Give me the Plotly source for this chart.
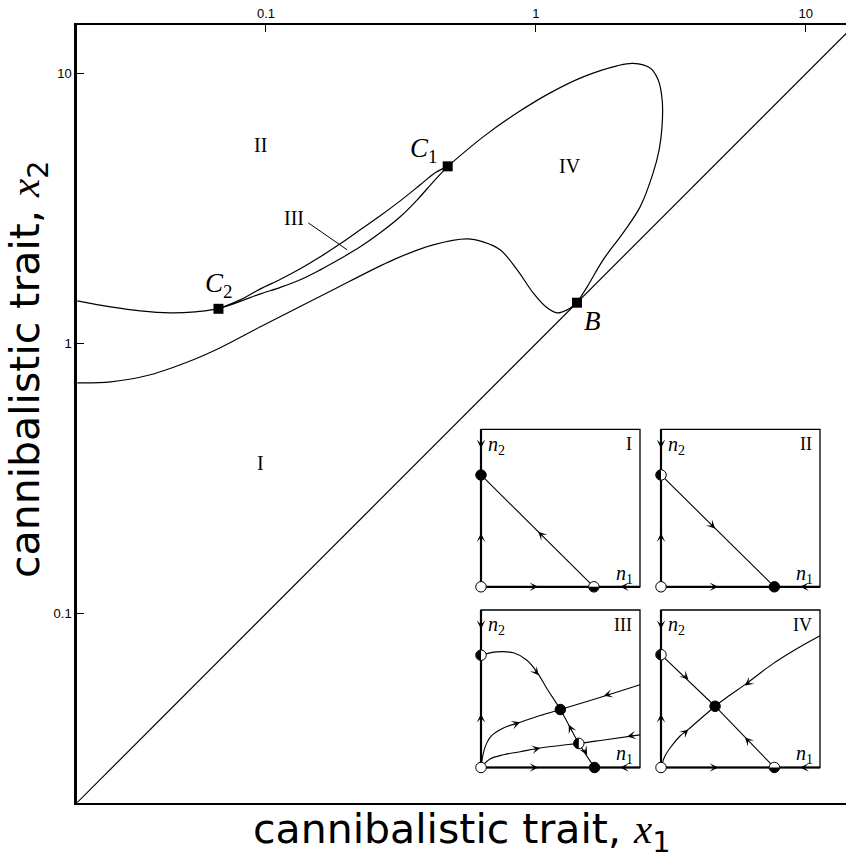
import numpy as np
import plotly.graph_objects as go

# ---------------- main diagram data (log-log) ----------------
left_x = [0.0200, 0.0266, 0.0342, 0.0443, 0.0547, 0.0667]
left_y = [1.443, 1.371, 1.325, 1.303, 1.314, 1.348]

hi_x = [0.0667, 0.0803, 0.0954, 0.1132, 0.1340, 0.1589, 0.1884, 0.2235, 0.2651, 0.3143, 0.3729, 0.4236, 0.4714]
hi_y = [1.348, 1.455, 1.598, 1.734, 1.896, 2.100, 2.346, 2.644, 2.980, 3.385, 3.881, 4.298, 4.544]

lo_x = [0.0667, 0.0803, 0.0954, 0.1132, 0.1340, 0.1589, 0.1884, 0.2235, 0.2651, 0.3143, 0.3635, 0.4165, 0.4714]
lo_y = [1.348, 1.437, 1.531, 1.619, 1.726, 1.879, 2.065, 2.287, 2.577, 2.954, 3.414, 3.981, 4.544]

loop_x = [0.4714, 0.6379, 0.8527, 1.130, 1.497, 2.000, 2.293, 2.651, 2.838, 2.937, 2.937, 2.862,
          2.719, 2.434, 2.105, 1.775, 1.549, 1.42]
loop_y = [4.544, 5.843, 7.172, 8.504, 9.747, 10.71, 10.94, 10.52, 9.502, 8.012, 6.473, 5.231,
          4.298, 3.216, 2.577, 2.047, 1.626, 1.42]

bot_x = [0.0200, 0.0266, 0.0373, 0.0538, 0.0677, 0.0954, 0.1687, 0.2961, 0.4165, 0.5566, 0.6379, 0.7377, 0.8527, 0.9772, 1.101, 1.199, 1.306, 1.42]
bot_y = [0.717, 0.723, 0.768, 0.873, 0.967, 1.156, 1.545, 2.047, 2.326, 2.448, 2.387, 2.229, 1.879, 1.545, 1.359, 1.302, 1.336, 1.42]

diag_x = [0.02, 16.0]
diag_y = [0.02, 16.0]

pts_name = ["C1", "C2", "B"]
pts_x = [0.4714, 0.0667, 1.42]
pts_y = [4.544, 1.348, 1.42]

lab_text = ["<i>C</i><sub>1</sub>", "<i>C</i><sub>2</sub>", "<i>B</i>", "I", "II", "III", "IV"]
lab_x = [0.3825, 0.0667, 1.616, 0.0953, 0.0953, 0.1265, 1.340]
lab_y = [5.23, 1.654, 1.217, 0.3624, 5.458, 2.922, 4.563]

ptr_x = [0.1435, 0.2000]
ptr_y = [2.806, 2.229]

x_ticks = [0.1, 1, 10]
x_ticktext = ["0.1", "1", "10"]
y_ticks = [0.1, 1, 10]
y_ticktext = ["0.1", "1", "10"]

# ---------------- inset phase portraits (unit square coords) ----------------
panel_names = ["I", "II", "III", "IV"]

eq_I = [(0, 0, "open"), (0, 0.71, "filled"), (0.71, 0, "half-down")]
eq_II = [(0, 0, "open"), (0, 0.71, "half-left"), (0.713, 0, "filled")]
eq_III = [(0, 0, "open"), (0, 0.713, "half-left"), (0.714, 0, "filled"),
          (0.499, 0.368, "filled"), (0.615, 0.153, "half-left")]
eq_IV = [(0, 0, "open"), (0, 0.716, "half-left"), (0.713, 0, "half-down"), (0.34, 0.389, "filled")]

traj_I = [([0, 0.71], [0.71, 0])]
traj_II = [([0, 0.713], [0.71, 0])]
traj_III = [
    ([0, 0.099, 0.204, 0.289, 0.352, 0.415, 0.499, 0.615, 0.714],
     [0.713, 0.734, 0.728, 0.681, 0.606, 0.50, 0.368, 0.153, 0]),
    ([0, 0.025, 0.067, 0.141, 0.246, 0.373, 0.499, 0.773, 1.0],
     [0, 0.128, 0.202, 0.251, 0.287, 0.33, 0.368, 0.453, 0.526]),
    ([0, 0.057, 0.141, 0.246, 0.373, 0.499, 0.615, 0.773, 1.0],
     [0, 0.054, 0.081, 0.10, 0.124, 0.14, 0.153, 0.175, 0.207]),
]
traj_IV = [
    ([0, 0.34], [0.716, 0.389]),
    ([0.713, 0.34], [0, 0.389]),
    ([0, 0.025, 0.067, 0.12, 0.172, 0.256, 0.34], [0, 0.073, 0.137, 0.2, 0.242, 0.316, 0.389]),
    ([1.0, 0.843, 0.696, 0.528, 0.423, 0.34], [0.836, 0.747, 0.653, 0.526, 0.452, 0.389]),
]

axis_arrows = [(0, 0.88, 0, -1), (0, 0.34, 0, 1), (0.36, 0, 1, 0), (0.875, 0, -1, 0)]
arr_I = [(0.36, 0.35, -1, 1)]
arr_II = [(0.34, 0.37, 1, -1)]
arr_III = [(0.362, 0.585, 1, -1.3), (0.552, 0.272, -0.5, 1), (0.668, 0.081, 0.6, -1),
           (0.246, 0.287, 1, 0.35), (0.773, 0.455, -1, -0.3), (0.373, 0.124, 1, 0.2),
           (0.92, 0.196, -1, -0.2)]
arr_IV = [(0.172, 0.558, 1, -1), (0.528, 0.19, -1, 1), (0.172, 0.242, 1, 0.9), (0.528, 0.52, -1, -0.8)]

# ---------------- layout geometry ----------------
W, H = 846, 861
PL, PT, PR, PB = 77, 25, 846, 803   # plot area in pixels
ML, MT, MR, MB = PL, PT, W - PR, H - PB
PW, PH = PR - PL, PB - PT
PAD = 0.05  # inset axis padding (fraction of unit box)


def px_dom_x(left, width):
    a = left - PAD * width
    b = left + width * (1 + PAD)
    return [(a - PL) / PW, (b - PL) / PW]


def px_dom_y(top, height):
    a = top + height * (1 + PAD)
    b = top - PAD * height
    return [(PB - a) / PH, (PB - b) / PH]


panel_dom = [
    (px_dom_x(481, 159), px_dom_y(429.3, 157.5)),
    (px_dom_x(661, 159), px_dom_y(429.3, 157.5)),
    (px_dom_x(481, 159), px_dom_y(610, 157.5)),
    (px_dom_x(661, 159), px_dom_y(610, 157.5)),
]

fig = go.Figure()
line = dict(color="black", width=1.2)

fig.add_trace(go.Scatter(x=diag_x, y=diag_y, mode="lines", line=line))
fig.add_trace(go.Scatter(x=left_x, y=left_y, mode="lines", line=dict(line, shape="spline")))
fig.add_trace(go.Scatter(x=hi_x, y=hi_y, mode="lines", line=dict(line, shape="spline")))
fig.add_trace(go.Scatter(x=lo_x, y=lo_y, mode="lines", line=dict(line, shape="spline")))
fig.add_trace(go.Scatter(x=loop_x, y=loop_y, mode="lines", line=dict(line, shape="spline", smoothing=1)))
fig.add_trace(go.Scatter(x=bot_x, y=bot_y, mode="lines", line=dict(line, shape="spline")))
fig.add_trace(go.Scatter(x=ptr_x, y=ptr_y, mode="lines", line=dict(color="black", width=1)))
fig.add_trace(go.Scatter(x=pts_x, y=pts_y, mode="markers", text=pts_name,
                         marker=dict(symbol="square", size=10, color="black"), cliponaxis=False))

annotations = []
serif = "Liberation Serif"
for t, xv, yv in zip(lab_text, lab_x, lab_y):
    size = 27 if ("C" in t or "B" in t) else 20
    annotations.append(dict(x=np.log10(xv), y=np.log10(yv), xref="x", yref="y", text=t,
                            showarrow=False, font=dict(family=serif, size=size, color="black")))

# insets
eqs = [eq_I, eq_II, eq_III, eq_IV]
trajs = [traj_I, traj_II, traj_III, traj_IV]
arrs = [arr_I, arr_II, arr_III, arr_IV]
R_U, R_V = 5.0 / 159, 5.0 / 157.5

for k in range(4):
    xa, ya = "x%d" % (k + 2), "y%d" % (k + 2)
    fig.add_trace(go.Scatter(x=[0, 1, 1, 0, 0], y=[0, 0, 1, 1, 0], mode="lines",
                             line=dict(color="black", width=1.3), xaxis=xa, yaxis=ya))
    fig.add_trace(go.Scatter(x=[0, 0, 1], y=[1, 0, 0], mode="lines",
                             line=dict(color="black", width=2.2), xaxis=xa, yaxis=ya))
    for tu, tv in trajs[k]:
        fig.add_trace(go.Scatter(x=tu, y=tv, mode="lines",
                                 line=dict(color="black", width=1.1, shape="spline"),
                                 xaxis=xa, yaxis=ya))
    eu = [e[0] for e in eqs[k]]
    ev = [e[1] for e in eqs[k]]
    ec = ["black" if e[2] == "filled" else "white" for e in eqs[k]]
    fig.add_trace(go.Scatter(x=eu, y=ev, mode="markers", cliponaxis=False,
                             marker=dict(size=10.5, color=ec, line=dict(color="black", width=1)),
                             xaxis=xa, yaxis=ya))
    for (u0, v0, kind) in eqs[k]:
        if kind.startswith("half"):
            if kind == "half-left":
                th = np.linspace(np.pi / 2, 3 * np.pi / 2, 25)
            else:
                th = np.linspace(np.pi, 2 * np.pi, 25)
            fig.add_trace(go.Scatter(x=u0 + R_U * np.cos(th), y=v0 + R_V * np.sin(th),
                                     mode="lines", fill="toself", fillcolor="black",
                                     line=dict(color="black", width=0.5), xaxis=xa, yaxis=ya))
    for (u, v, du, dv) in axis_arrows + arrs[k]:
        n = np.hypot(du, dv)
        annotations.append(dict(x=u, y=v, ax=u - 0.05 * du / n, ay=v - 0.05 * dv / n,
                                xref=xa, yref=ya, axref=xa, ayref=ya, text="",
                                showarrow=True, arrowhead=3, arrowsize=1.6, arrowwidth=0.9,
                                arrowcolor="black", standoff=0))
    annotations.append(dict(x=0.03, y=0.9, xref=xa, yref=ya, xanchor="left", showarrow=False,
                            text="<i>n</i><sub>2</sub>", font=dict(family=serif, size=20, color="black")))
    annotations.append(dict(x=0.97, y=0.08, xref=xa, yref=ya, xanchor="right", showarrow=False,
                            text="<i>n</i><sub>1</sub>", font=dict(family=serif, size=20, color="black")))
    annotations.append(dict(x=0.965, y=0.905, xref=xa, yref=ya, xanchor="right", showarrow=False,
                            text=panel_names[k], font=dict(family=serif, size=18, color="black")))

# axis titles
annotations.append(dict(x=0.5, y=(PB - 832) / PH, xref="paper", yref="paper", showarrow=False,
                        xanchor="center", yanchor="middle",
                        text='cannibalistic trait, <span style="font-family:Liberation Serif"><i>x</i></span><sub>1</sub>',
                        font=dict(family="DejaVu Sans", size=41, color="black")))
annotations.append(dict(x=(28 - PL) / PW, y=(PB - 370) / PH, xref="paper", yref="paper",
                        showarrow=False, xanchor="center", yanchor="middle", textangle=-90,
                        text='cannibalistic trait, <span style="font-family:Liberation Serif"><i>x</i></span><sub>2</sub>',
                        font=dict(family="DejaVu Sans", size=41, color="black")))

layout = dict(
    width=W, height=H, autosize=False,
    template="none",
    margin=dict(l=ML, r=MR, t=MT, b=MB, pad=0, autoexpand=False),
    paper_bgcolor="white", plot_bgcolor="white",
    showlegend=False,
    font=dict(family="Liberation Sans", size=13, color="black"),
    xaxis=dict(type="log", range=[-1.7, 1.149], side="top", tickvals=x_ticks, ticktext=x_ticktext,
               ticks="inside", ticklen=7, tickcolor="black", showline=True, linewidth=2,
               linecolor="black", mirror=True, showgrid=False, zeroline=False, automargin=False,
               tickfont=dict(size=13)),
    yaxis=dict(type="log", range=[-1.701, 1.181], tickvals=y_ticks, ticktext=y_ticktext,
               ticks="inside", ticklen=7, tickcolor="black", showline=True, linewidth=2.5,
               linecolor="black", mirror=False, showgrid=False, zeroline=False, automargin=False,
               tickfont=dict(size=13)),
    annotations=annotations,
)
for k in range(4):
    dx, dy = panel_dom[k]
    layout["xaxis%d" % (k + 2)] = dict(domain=dx, range=[-PAD, 1 + PAD], visible=False,
                                       anchor="y%d" % (k + 2), fixedrange=True, automargin=False)
    layout["yaxis%d" % (k + 2)] = dict(domain=dy, range=[-PAD, 1 + PAD], visible=False,
                                       anchor="x%d" % (k + 2), fixedrange=True, automargin=False)
fig.update_layout(**layout)

fig.write_html("out.html", config={"displayModeBar": False},
               post_script="document.body.style.margin='0';document.body.style.overflow='hidden';")
